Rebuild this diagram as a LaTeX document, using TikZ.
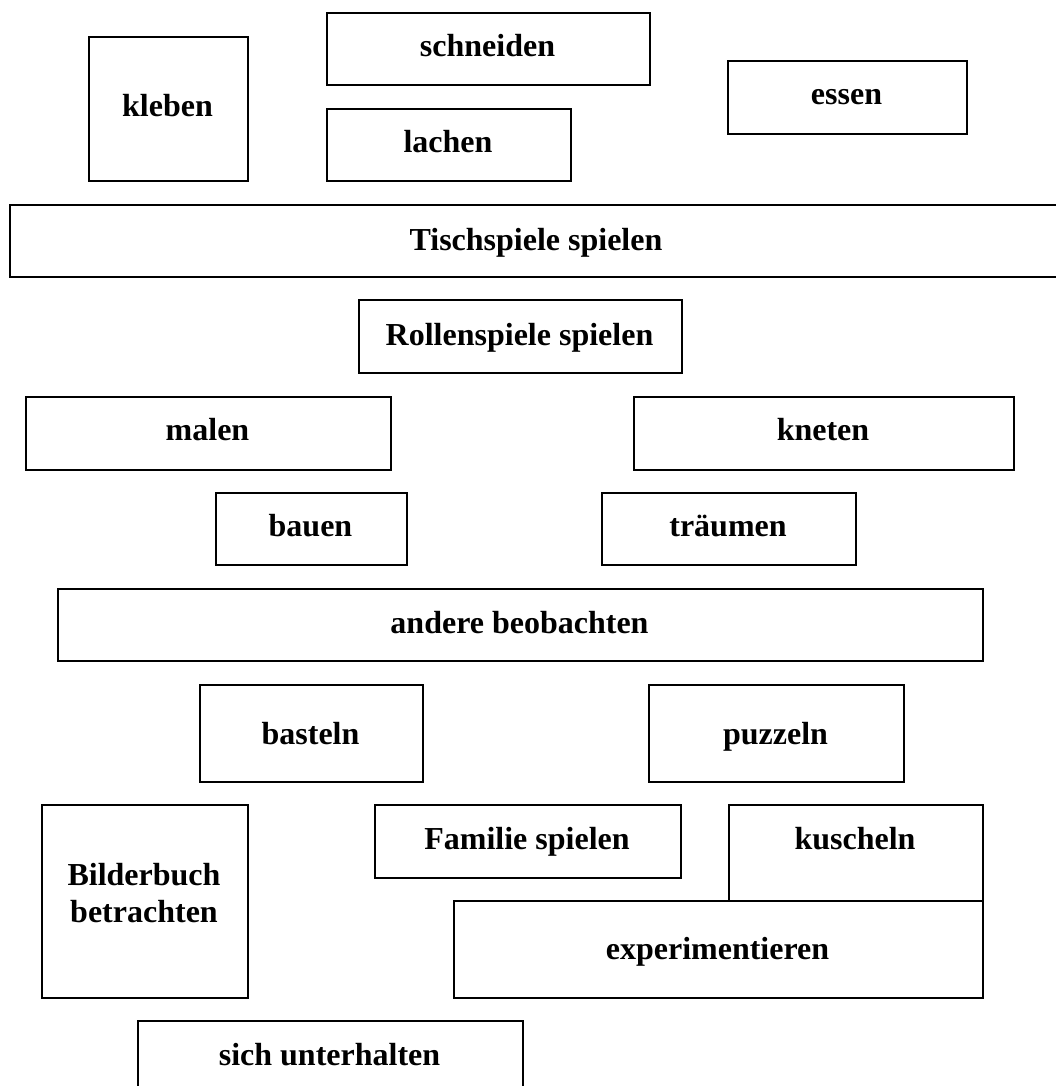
\documentclass[tikz,border=0pt]{standalone}
\usepackage{fontspec}
\setmainfont{Liberation Serif}
\begin{document}
\begin{tikzpicture}[x=1pt,y=-1pt,
  box/.style={draw, line width=1.8pt, rectangle, inner sep=0pt, anchor=north west},
  lbl/.style={font=\bfseries\fontsize{32}{37}\selectfont, anchor=base, inner sep=0pt, align=center, yshift=-3pt}]
\useasboundingbox (0,0) rectangle (1056,1086);
\clip (0,0) rectangle (1056,1086);
\newcommand\bx[5]{\node[box, minimum width={#4pt-#2pt}, minimum height={#5pt-#3pt}] (#1) at (#2,#3) {};}
% boxes
\bx{kleben}{88}{36}{247}{180}
\bx{schneiden}{326}{12}{649}{84}
\bx{lachen}{326}{108}{570}{180}
\bx{essen}{727}{60}{966}{133}
\bx{tisch}{9}{204}{1080}{276}
\bx{rollen}{358}{299}{681}{372}
\bx{malen}{25}{396}{390}{469}
\bx{kneten}{633}{396}{1013}{469}
\bx{bauen}{215}{492}{406}{564}
\bx{traeumen}{601}{492}{855}{564}
\bx{andere}{57}{588}{982}{660}
\bx{basteln}{199}{684}{422}{781}
\bx{puzzeln}{648}{684}{903}{781}
\bx{bilder}{41}{804}{247}{997}
\bx{familie}{374}{804}{680}{877}
\bx{kuscheln}{728}{804}{982}{900}
\bx{experiment}{453}{900}{982}{997}
\bx{sich}{137}{1020}{522}{1110}
% labels
\node[lbl] (t-kleben) at (167.5,114) {kleben};
\node[lbl] (t-schneiden) at (487.5,54) {schneiden};
\node[lbl] (t-lachen) at (448,150) {lachen};
\node[lbl] (t-essen) at (846.5,102) {essen};
\node[lbl] (t-tisch) at (536,247) {Tischspiele spielen};
\node[lbl] (t-rollen) at (519.5,342) {Rollenspiele spielen};
\node[lbl] (t-malen) at (207.5,437) {malen};
\node[lbl] (t-kneten) at (823,437) {kneten};
\node[lbl] (t-bauen) at (310.5,533) {bauen};
\node[lbl] (t-traeumen) at (728,533) {träumen};
\node[lbl] (t-andere) at (519.5,630) {andere beobachten};
\node[lbl] (t-basteln) at (310.5,741) {basteln};
\node[lbl] (t-puzzeln) at (775.5,741) {puzzeln};
\node[lbl] (t-bilder) at (144,919) {Bilderbuch\\betrachten};
\node[lbl] (t-familie) at (527,846) {Familie spielen};
\node[lbl] (t-kuscheln) at (855,846) {kuscheln};
\node[lbl] (t-experiment) at (717.5,956) {experimentieren};
\node[lbl] (t-sich) at (329.5,1062) {sich unterhalten};
\end{tikzpicture}
\end{document}
